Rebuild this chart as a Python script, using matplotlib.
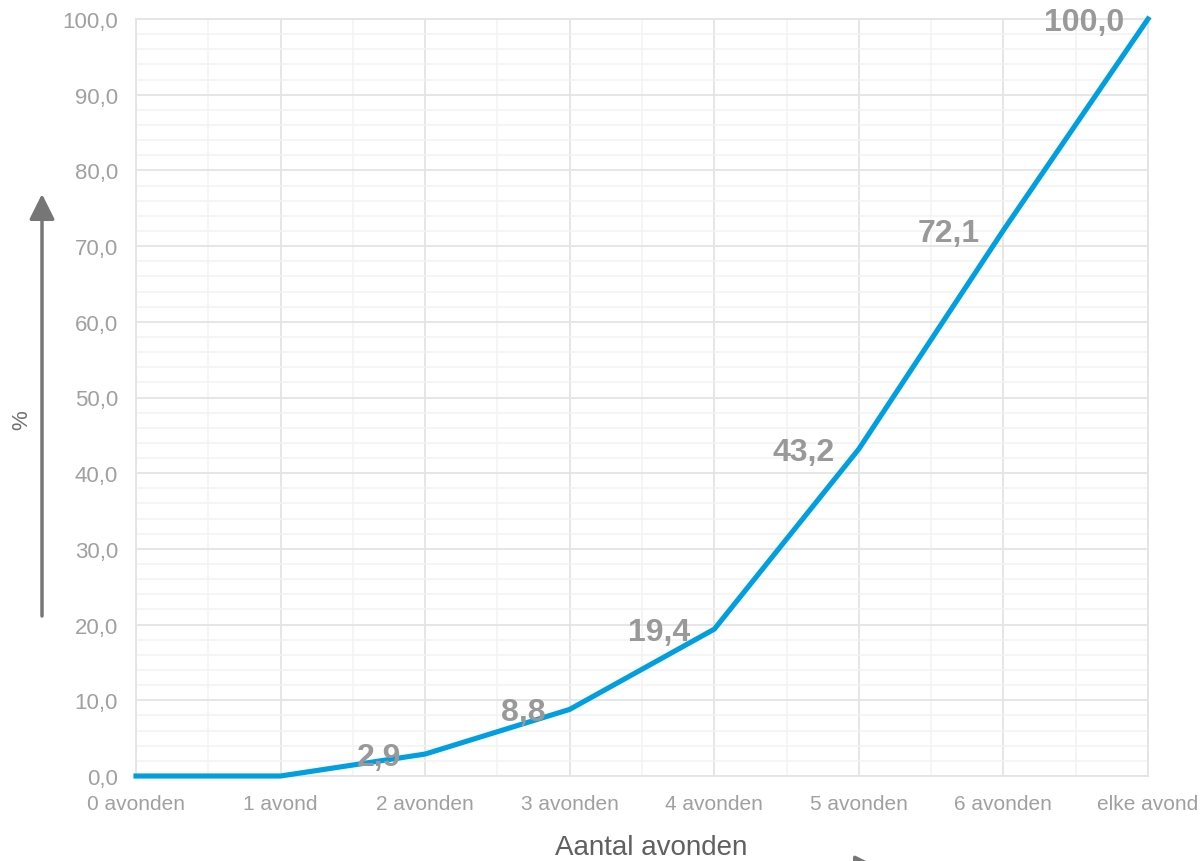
import matplotlib
matplotlib.use("Agg")
import matplotlib.pyplot as plt
import numpy as np

categories = ["0 avonden", "1 avond", "2 avonden", "3 avonden", "4 avonden",
              "5 avonden", "6 avonden", "elke avond"]
values = [0.0, 0.0, 2.9, 8.8, 19.4, 43.2, 72.1, 100.0]
labelled = [False, False, True, True, True, True, True, True]
yticks = [0, 10, 20, 30, 40, 50, 60, 70, 80, 90, 100]

plt.rcParams['font.family'] = ['Liberation Sans', 'DejaVu Sans']

W, H = 1201, 862
fig = plt.figure(figsize=(W / 100, H / 100), dpi=100)
L, R, T, B = 136, 1148, 20, 777
ax = fig.add_axes([L / W, 1 - B / H, (R - L) / W, (B - T) / H])

x = np.arange(len(categories))
ax.plot(x, values, color='#009fdf', lw=3.7, solid_joinstyle='miter', zorder=3, clip_on=False)

ax.set_xlim(0, len(categories) - 1)
ax.set_ylim(0, 100)
ax.set_xticks(x)
ax.set_xticklabels(categories)
ax.set_xticks(x[:-1] + 0.5, minor=True)
ax.set_yticks(yticks)
ax.set_yticklabels([f"{v:.1f}".replace('.', ',') for v in yticks])
ax.set_yticks(np.arange(0, 101, 2), minor=True)

ax.grid(which='major', color='#e4e4e4', lw=1.3)
ax.grid(which='minor', color='#f3f3f3', lw=1.1)
ax.set_axisbelow(True)
for s in ax.spines.values():
    s.set_color('#e4e4e4')
    s.set_linewidth(1.3)

ax.tick_params(which='both', length=0)
ax.tick_params(axis='x', pad=13, labelsize=15, labelcolor='#a0a0a0')
ax.tick_params(axis='y', pad=13, labelsize=16, labelcolor='#a0a0a0')

for xi, v, show in zip(x, values, labelled):
    if show:
        ax.annotate(f"{v:.1f}".replace('.', ','), (xi, v), xytext=(-24, -3),
                    textcoords='offset pixels', ha='right', va='center',
                    fontsize=23, fontweight='bold', color='#999999',
                    annotation_clip=False, zorder=4)

fig.text(651 / W, 1 - 848 / H, "Aantal avonden", ha='center', va='center',
         fontsize=20, color='#606060')
fig.text(22 / W, 1 - 420 / H, "%", ha='center', va='center', rotation=90,
         fontsize=16, color='#707070')

# vertical arrow
fig.patches.append(matplotlib.patches.FancyArrowPatch(
    (42 / W, 1 - 617 / H), (42 / W, 1 - 195 / H), transform=fig.transFigure,
    arrowstyle='-|>,head_length=1.1,head_width=0.55', mutation_scale=14,
    color='#767676', lw=2.5, shrinkA=0, shrinkB=0))
# bottom arrow (mostly outside the figure)
fig.patches.append(matplotlib.patches.FancyArrowPatch(
    (780 / W, 1 - 869 / H), (880 / W, 1 - 869 / H), transform=fig.transFigure,
    arrowstyle='-|>,head_length=1.1,head_width=0.55', mutation_scale=14,
    color='#767676', lw=2.5, shrinkA=0, shrinkB=0))

fig.savefig("out.png", dpi=100)
